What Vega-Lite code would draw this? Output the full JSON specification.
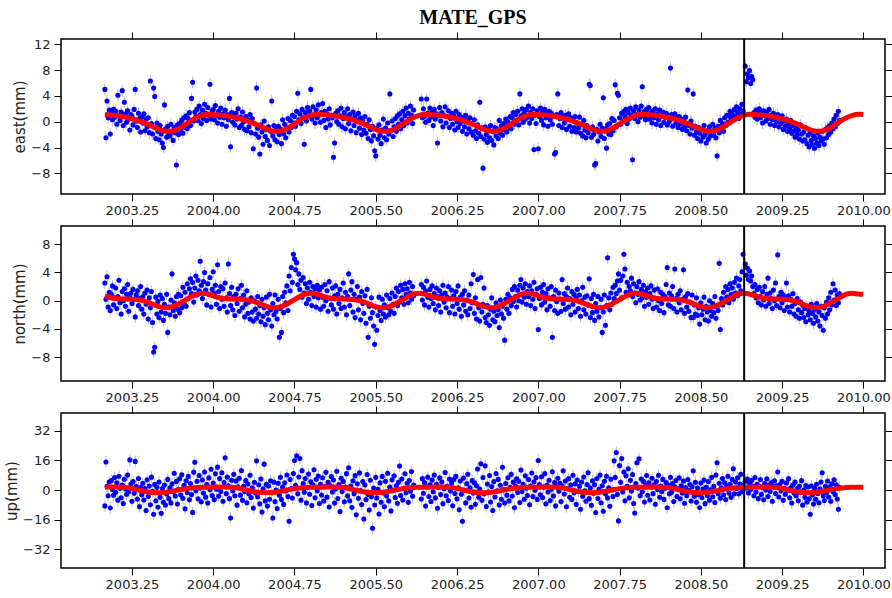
{
"$schema": "https://vega.github.io/schema/vega-lite/v6.json",
"background": "white",
"padding": {"left": 3, "top": 6, "right": 0, "bottom": 4},
"autosize": {"type": "pad"},
"spacing": 32,
"bounds": "flush",
"config": {
  "view": {"stroke": "black", "strokeWidth": 1.5},
  "axis": {"grid": false, "domain": false, "ticks": true, "tickColor": "black", "tickSize": 7, "tickWidth": 1, "labelFont": "DejaVu Sans", "labelFontSize": 13, "labelColor": "#222222", "titleFont": "DejaVu Sans", "titleFontSize": 15, "titleFontWeight": "normal", "titleColor": "#222222", "labelPadding": 3, "titlePadding": 3},
  "axisY": {"labelPadding": 4},
  "title": {"font": "Liberation Serif", "fontSize": 20, "fontWeight": "bold", "color": "black"}
},
"datasets": {
"events": [{"t": 2008.9}],
"model": [
{"t":2003.00,"e":1.12,"n":0.70,"u":1.60},{"t":2003.05,"e":1.05,"n":0.45,"u":1.70},{"t":2003.10,"e":0.95,"n":0.30,"u":1.70},{"t":2003.15,"e":0.82,"n":0.25,"u":1.60},{"t":2003.20,"e":0.65,"n":0.25,"u":1.40},{"t":2003.25,"e":0.45,"n":0.22,"u":0.90},{"t":2003.30,"e":0.20,"n":0.15,"u":0.20},{"t":2003.35,"e":-0.10,"n":0.00,"u":-0.50},{"t":2003.40,"e":-0.45,"n":-0.25,"u":-1.00},{"t":2003.45,"e":-0.85,"n":-0.55,"u":-1.30},{"t":2003.50,"e":-1.20,"n":-0.85,"u":-1.35},{"t":2003.55,"e":-1.45,"n":-1.00,"u":-1.20},{"t":2003.60,"e":-1.50,"n":-0.95,"u":-0.80},{"t":2003.65,"e":-1.30,"n":-0.70,"u":-0.30},{"t":2003.70,"e":-0.90,"n":-0.30,"u":0.30},{"t":2003.75,"e":-0.35,"n":0.15,"u":0.80},{"t":2003.80,"e":0.20,"n":0.60,"u":1.20},{"t":2003.85,"e":0.65,"n":0.95,"u":1.45},{"t":2003.90,"e":0.98,"n":1.05,"u":1.55},{"t":2003.95,"e":1.15,"n":0.95,"u":1.60},
{"t":2004.00,"e":1.12,"n":0.70,"u":1.60},{"t":2004.05,"e":1.05,"n":0.45,"u":1.70},{"t":2004.10,"e":0.95,"n":0.30,"u":1.70},{"t":2004.15,"e":0.82,"n":0.25,"u":1.60},{"t":2004.20,"e":0.65,"n":0.25,"u":1.40},{"t":2004.25,"e":0.45,"n":0.22,"u":0.90},{"t":2004.30,"e":0.20,"n":0.15,"u":0.20},{"t":2004.35,"e":-0.10,"n":0.00,"u":-0.50},{"t":2004.40,"e":-0.45,"n":-0.25,"u":-1.00},{"t":2004.45,"e":-0.85,"n":-0.55,"u":-1.30},{"t":2004.50,"e":-1.20,"n":-0.85,"u":-1.35},{"t":2004.55,"e":-1.45,"n":-1.00,"u":-1.20},{"t":2004.60,"e":-1.50,"n":-0.95,"u":-0.80},{"t":2004.65,"e":-1.30,"n":-0.70,"u":-0.30},{"t":2004.70,"e":-0.90,"n":-0.30,"u":0.30},{"t":2004.75,"e":-0.35,"n":0.15,"u":0.80},{"t":2004.80,"e":0.20,"n":0.60,"u":1.20},{"t":2004.85,"e":0.65,"n":0.95,"u":1.45},{"t":2004.90,"e":0.98,"n":1.05,"u":1.55},{"t":2004.95,"e":1.15,"n":0.95,"u":1.60},
{"t":2005.00,"e":1.12,"n":0.70,"u":1.60},{"t":2005.05,"e":1.05,"n":0.45,"u":1.70},{"t":2005.10,"e":0.95,"n":0.30,"u":1.70},{"t":2005.15,"e":0.82,"n":0.25,"u":1.60},{"t":2005.20,"e":0.65,"n":0.25,"u":1.40},{"t":2005.25,"e":0.45,"n":0.22,"u":0.90},{"t":2005.30,"e":0.20,"n":0.15,"u":0.20},{"t":2005.35,"e":-0.10,"n":0.00,"u":-0.50},{"t":2005.40,"e":-0.45,"n":-0.25,"u":-1.00},{"t":2005.45,"e":-0.85,"n":-0.55,"u":-1.30},{"t":2005.50,"e":-1.20,"n":-0.85,"u":-1.35},{"t":2005.55,"e":-1.45,"n":-1.00,"u":-1.20},{"t":2005.60,"e":-1.50,"n":-0.95,"u":-0.80},{"t":2005.65,"e":-1.30,"n":-0.70,"u":-0.30},{"t":2005.70,"e":-0.90,"n":-0.30,"u":0.30},{"t":2005.75,"e":-0.35,"n":0.15,"u":0.80},{"t":2005.80,"e":0.20,"n":0.60,"u":1.20},{"t":2005.85,"e":0.65,"n":0.95,"u":1.45},{"t":2005.90,"e":0.98,"n":1.05,"u":1.55},{"t":2005.95,"e":1.15,"n":0.95,"u":1.60},
{"t":2006.00,"e":1.12,"n":0.70,"u":1.60},{"t":2006.05,"e":1.05,"n":0.45,"u":1.70},{"t":2006.10,"e":0.95,"n":0.30,"u":1.70},{"t":2006.15,"e":0.82,"n":0.25,"u":1.60},{"t":2006.20,"e":0.65,"n":0.25,"u":1.40},{"t":2006.25,"e":0.45,"n":0.22,"u":0.90},{"t":2006.30,"e":0.20,"n":0.15,"u":0.20},{"t":2006.35,"e":-0.10,"n":0.00,"u":-0.50},{"t":2006.40,"e":-0.45,"n":-0.25,"u":-1.00},{"t":2006.45,"e":-0.85,"n":-0.55,"u":-1.30},{"t":2006.50,"e":-1.20,"n":-0.85,"u":-1.35},{"t":2006.55,"e":-1.45,"n":-1.00,"u":-1.20},{"t":2006.60,"e":-1.50,"n":-0.95,"u":-0.80},{"t":2006.65,"e":-1.30,"n":-0.70,"u":-0.30},{"t":2006.70,"e":-0.90,"n":-0.30,"u":0.30},{"t":2006.75,"e":-0.35,"n":0.15,"u":0.80},{"t":2006.80,"e":0.20,"n":0.60,"u":1.20},{"t":2006.85,"e":0.65,"n":0.95,"u":1.45},{"t":2006.90,"e":0.98,"n":1.05,"u":1.55},{"t":2006.95,"e":1.15,"n":0.95,"u":1.60},
{"t":2007.00,"e":1.12,"n":0.70,"u":1.60},{"t":2007.05,"e":1.05,"n":0.45,"u":1.70},{"t":2007.10,"e":0.95,"n":0.30,"u":1.70},{"t":2007.15,"e":0.82,"n":0.25,"u":1.60},{"t":2007.20,"e":0.65,"n":0.25,"u":1.40},{"t":2007.25,"e":0.45,"n":0.22,"u":0.90},{"t":2007.30,"e":0.20,"n":0.15,"u":0.20},{"t":2007.35,"e":-0.10,"n":0.00,"u":-0.50},{"t":2007.40,"e":-0.45,"n":-0.25,"u":-1.00},{"t":2007.45,"e":-0.85,"n":-0.55,"u":-1.30},{"t":2007.50,"e":-1.20,"n":-0.85,"u":-1.35},{"t":2007.55,"e":-1.45,"n":-1.00,"u":-1.20},{"t":2007.60,"e":-1.50,"n":-0.95,"u":-0.80},{"t":2007.65,"e":-1.30,"n":-0.70,"u":-0.30},{"t":2007.70,"e":-0.90,"n":-0.30,"u":0.30},{"t":2007.75,"e":-0.35,"n":0.15,"u":0.80},{"t":2007.80,"e":0.20,"n":0.60,"u":1.20},{"t":2007.85,"e":0.65,"n":0.95,"u":1.45},{"t":2007.90,"e":0.98,"n":1.05,"u":1.55},{"t":2007.95,"e":1.15,"n":0.95,"u":1.60},
{"t":2008.00,"e":1.12,"n":0.70,"u":1.60},{"t":2008.05,"e":1.05,"n":0.45,"u":1.70},{"t":2008.10,"e":0.95,"n":0.30,"u":1.70},{"t":2008.15,"e":0.82,"n":0.25,"u":1.60},{"t":2008.20,"e":0.65,"n":0.25,"u":1.40},{"t":2008.25,"e":0.45,"n":0.22,"u":0.90},{"t":2008.30,"e":0.20,"n":0.15,"u":0.20},{"t":2008.35,"e":-0.10,"n":0.00,"u":-0.50},{"t":2008.40,"e":-0.45,"n":-0.25,"u":-1.00},{"t":2008.45,"e":-0.85,"n":-0.55,"u":-1.30},{"t":2008.50,"e":-1.20,"n":-0.85,"u":-1.35},{"t":2008.55,"e":-1.45,"n":-1.00,"u":-1.20},{"t":2008.60,"e":-1.50,"n":-0.95,"u":-0.80},{"t":2008.65,"e":-1.30,"n":-0.70,"u":-0.30},{"t":2008.70,"e":-0.90,"n":-0.30,"u":0.30},{"t":2008.75,"e":-0.35,"n":0.15,"u":0.80},{"t":2008.80,"e":0.20,"n":0.60,"u":1.20},{"t":2008.85,"e":0.65,"n":0.95,"u":1.45},{"t":2008.90,"e":0.98,"n":1.05,"u":1.55},{"t":2008.95,"e":1.15,"n":0.95,"u":1.60},
{"t":2009.00,"e":1.12,"n":0.70,"u":1.60},{"t":2009.05,"e":1.05,"n":0.45,"u":1.70},{"t":2009.10,"e":0.95,"n":0.30,"u":1.70},{"t":2009.15,"e":0.82,"n":0.25,"u":1.60},{"t":2009.20,"e":0.65,"n":0.25,"u":1.40},{"t":2009.25,"e":0.45,"n":0.22,"u":0.90},{"t":2009.30,"e":0.20,"n":0.15,"u":0.20},{"t":2009.35,"e":-0.10,"n":0.00,"u":-0.50},{"t":2009.40,"e":-0.45,"n":-0.25,"u":-1.00},{"t":2009.45,"e":-0.85,"n":-0.55,"u":-1.30},{"t":2009.50,"e":-1.20,"n":-0.85,"u":-1.35},{"t":2009.55,"e":-1.45,"n":-1.00,"u":-1.20},{"t":2009.60,"e":-1.50,"n":-0.95,"u":-0.80},{"t":2009.65,"e":-1.30,"n":-0.70,"u":-0.30},{"t":2009.70,"e":-0.90,"n":-0.30,"u":0.30},{"t":2009.75,"e":-0.35,"n":0.15,"u":0.80},{"t":2009.80,"e":0.20,"n":0.60,"u":1.20},{"t":2009.85,"e":0.65,"n":0.95,"u":1.45},{"t":2009.90,"e":0.98,"n":1.05,"u":1.55},{"t":2009.95,"e":1.15,"n":0.95,"u":1.60},{"t":2010.00,"e":1.12,"n":0.90,"u":1.60}
],
"obs": [
{"t":2003.00,"e":5.0,"n":2.5,"u":-8.5},{"t":2003.01,"e":-2.5,"n":0.2,"u":15.2},{"t":2003.02,"e":3.2,"n":3.4,"u":2.1},{"t":2003.03,"e":0.6,"n":-0.9,"u":-3.0},{"t":2003.04,"e":1.8,"n":1.2,"u":4.4},
{"t":2003.05,"e":-1.9,"n":-1.4,"u":-9.6},{"t":2003.06,"e":1.4,"n":0.9,"u":5.2},{"t":2003.07,"e":0.3,"n":2.1,"u":0.3},{"t":2003.08,"e":1.9,"n":-0.6,"u":-2.7},{"t":2003.09,"e":0.7,"n":0.4,"u":6.8},
{"t":2003.10,"e":1.6,"n":1.8,"u":-1.2},{"t":2003.11,"e":-0.4,"n":-1.1,"u":3.9},{"t":2003.12,"e":4.1,"n":0.6,"u":-5.4},{"t":2003.13,"e":0.9,"n":2.9,"u":7.5},{"t":2003.14,"e":0.2,"n":-0.3,"u":1.0},
{"t":2003.15,"e":1.5,"n":-1.9,"u":-4.1},{"t":2003.16,"e":4.8,"n":1.3,"u":2.8},{"t":2003.17,"e":-0.6,"n":0.0,"u":-7.2},{"t":2003.18,"e":3.0,"n":1.7,"u":5.9},{"t":2003.19,"e":1.2,"n":-0.8,"u":0.6},
{"t":2003.20,"e":-0.1,"n":0.9,"u":-2.2},{"t":2003.21,"e":1.7,"n":2.3,"u":8.1},{"t":2003.22,"e":0.4,"n":-1.5,"u":-0.9},{"t":2003.23,"e":-1.3,"n":0.5,"u":16.3},{"t":2003.24,"e":1.1,"n":1.1,"u":3.3},
{"t":2003.25,"e":0.8,"n":-0.4,"u":-6.0},{"t":2003.26,"e":-0.5,"n":1.6,"u":4.6},{"t":2003.27,"e":1.9,"n":0.2,"u":-1.7},{"t":2003.28,"e":5.0,"n":-2.3,"u":15.5},{"t":2003.29,"e":0.1,"n":0.8,"u":2.0},
{"t":2003.30,"e":-0.9,"n":1.4,"u":-4.8},{"t":2003.31,"e":1.3,"n":-0.7,"u":6.3},{"t":2003.32,"e":0.5,"n":0.3,"u":-8.9},{"t":2003.33,"e":-1.6,"n":2.0,"u":1.4},{"t":2003.34,"e":0.7,"n":-1.2,"u":-2.5},
{"t":2003.35,"e":-0.2,"n":0.6,"u":3.7},{"t":2003.36,"e":1.2,"n":-1.9,"u":-5.3},{"t":2003.37,"e":-1.4,"n":1.1,"u":0.8},{"t":2003.38,"e":0.4,"n":-0.5,"u":-11.0},{"t":2003.39,"e":-0.8,"n":1.5,"u":5.6},
{"t":2003.40,"e":0.6,"n":-2.6,"u":-3.4},{"t":2003.41,"e":-1.7,"n":0.4,"u":2.2},{"t":2003.42,"e":6.3,"n":-1.0,"u":-7.9},{"t":2003.43,"e":-0.3,"n":1.3,"u":7.0},{"t":2003.44,"e":-1.9,"n":-3.1,"u":-0.6},
{"t":2003.45,"e":5.2,"n":-7.3,"u":-13.0},{"t":2003.46,"e":3.9,"n":-6.6,"u":3.1},{"t":2003.47,"e":-2.6,"n":0.5,"u":-5.7},{"t":2003.48,"e":-0.2,"n":-1.9,"u":1.5},{"t":2003.49,"e":-1.5,"n":-0.1,"u":-9.2},
{"t":2003.50,"e":-2.8,"n":-2.4,"u":4.4},{"t":2003.51,"e":-0.6,"n":0.8,"u":-3.9},{"t":2003.52,"e":-1.9,"n":-1.6,"u":-12.5},{"t":2003.53,"e":-3.3,"n":0.3,"u":0.9},{"t":2003.54,"e":-4.0,"n":-2.8,"u":-6.6},
{"t":2003.55,"e":2.6,"n":-0.5,"u":2.7},{"t":2003.56,"e":-1.1,"n":-1.8,"u":-8.0},{"t":2003.57,"e":-2.4,"n":0.9,"u":-2.1},{"t":2003.58,"e":-0.7,"n":-4.5,"u":5.8},{"t":2003.59,"e":-1.8,"n":-0.9,"u":-4.6},
{"t":2003.60,"e":-2.2,"n":-2.0,"u":1.2},{"t":2003.61,"e":-0.4,"n":0.1,"u":-6.9},{"t":2003.62,"e":-1.6,"n":3.8,"u":3.4},{"t":2003.63,"e":-2.9,"n":-1.4,"u":-0.9},{"t":2003.64,"e":-0.9,"n":-0.3,"u":9.1},
{"t":2003.65,"e":-1.7,"n":-2.2,"u":-3.2},{"t":2003.66,"e":-6.7,"n":0.6,"u":4.7},{"t":2003.67,"e":-0.5,"n":-1.2,"u":-7.5},{"t":2003.68,"e":-2.0,"n":0.9,"u":0.4},{"t":2003.69,"e":-0.3,"n":-1.7,"u":6.1},
{"t":2003.70,"e":-1.4,"n":0.7,"u":-2.6},{"t":2003.71,"e":0.2,"n":-1.0,"u":8.3},{"t":2003.72,"e":-1.8,"n":1.9,"u":-4.4},{"t":2003.73,"e":0.6,"n":-0.4,"u":2.6},{"t":2003.74,"e":-0.9,"n":1.2,"u":-10.1},
{"t":2003.75,"e":0.9,"n":-0.8,"u":5.0},{"t":2003.76,"e":-1.1,"n":2.4,"u":-1.3},{"t":2003.77,"e":0.5,"n":0.3,"u":7.4},{"t":2003.78,"e":1.4,"n":1.7,"u":-5.2},{"t":2003.79,"e":-0.6,"n":3.1,"u":3.6},
{"t":2003.80,"e":3.6,"n":1.0,"u":-2.4},{"t":2003.81,"e":6.1,"n":2.6,"u":-12.0},{"t":2003.82,"e":0.1,"n":-0.2,"u":9.7},{"t":2003.83,"e":1.5,"n":1.8,"u":15.0},{"t":2003.84,"e":0.8,"n":3.5,"u":-0.3},
{"t":2003.85,"e":1.9,"n":0.8,"u":4.8},{"t":2003.86,"e":0.2,"n":2.9,"u":-4.7},{"t":2003.87,"e":2.4,"n":1.4,"u":7.9},{"t":2003.88,"e":1.1,"n":5.6,"u":1.1},{"t":2003.89,"e":-0.3,"n":2.2,"u":-6.3},
{"t":2003.90,"e":1.8,"n":0.3,"u":5.5},{"t":2003.91,"e":0.5,"n":2.7,"u":-1.6},{"t":2003.92,"e":2.7,"n":4.0,"u":9.8},{"t":2003.93,"e":1.3,"n":1.5,"u":-3.8},{"t":2003.94,"e":0.2,"n":-0.6,"u":3.0},
{"t":2003.95,"e":2.2,"n":2.4,"u":-7.0},{"t":2003.96,"e":1.0,"n":0.9,"u":6.6},{"t":2003.97,"e":5.8,"n":3.3,"u":0.2},{"t":2003.98,"e":0.4,"n":-0.9,"u":11.3},{"t":2003.99,"e":1.7,"n":1.6,"u":-2.9},
{"t":2004.00,"e":1.9,"n":4.1,"u":3.8},{"t":2004.01,"e":0.3,"n":1.0,"u":-5.1},{"t":2004.02,"e":2.5,"n":2.2,"u":8.8},{"t":2004.03,"e":1.0,"n":-0.5,"u":0.5},{"t":2004.04,"e":-0.2,"n":5.1,"u":12.4},
{"t":2004.05,"e":1.6,"n":1.3,"u":-3.3},{"t":2004.06,"e":0.7,"n":-1.1,"u":6.2},{"t":2004.07,"e":2.1,"n":2.0,"u":-0.8},{"t":2004.08,"e":-0.4,"n":0.2,"u":9.4},{"t":2004.09,"e":1.2,"n":1.7,"u":-6.0},
{"t":2004.10,"e":0.6,"n":-0.8,"u":4.1},{"t":2004.11,"e":1.8,"n":2.5,"u":17.4},{"t":2004.12,"e":-0.7,"n":0.4,"u":-1.9},{"t":2004.13,"e":1.1,"n":-1.6,"u":7.0},{"t":2004.14,"e":0.3,"n":5.2,"u":2.4},
{"t":2004.15,"e":3.6,"n":1.0,"u":-4.6},{"t":2004.16,"e":-3.9,"n":-0.7,"u":-15.0},{"t":2004.17,"e":1.4,"n":1.9,"u":5.3},{"t":2004.18,"e":-0.1,"n":-1.3,"u":-0.4},{"t":2004.19,"e":0.9,"n":0.6,"u":8.5},
{"t":2004.20,"e":-0.5,"n":-2.1,"u":-3.0},{"t":2004.21,"e":1.3,"n":0.9,"u":4.9},{"t":2004.22,"e":0.4,"n":-0.4,"u":-8.1},{"t":2004.23,"e":2.0,"n":1.7,"u":1.8},{"t":2004.24,"e":-0.9,"n":-1.5,"u":6.4},
{"t":2004.25,"e":0.7,"n":0.3,"u":-2.7},{"t":2004.26,"e":-0.6,"n":2.2,"u":10.6},{"t":2004.27,"e":1.5,"n":-1.0,"u":-5.5},{"t":2004.28,"e":0.0,"n":0.8,"u":2.0},{"t":2004.29,"e":-1.2,"n":-2.3,"u":-0.7},
{"t":2004.30,"e":0.8,"n":-0.5,"u":5.1},{"t":2004.31,"e":-1.4,"n":1.4,"u":-6.8},{"t":2004.32,"e":0.3,"n":-1.8,"u":3.3},{"t":2004.33,"e":-0.8,"n":-0.2,"u":-2.1},{"t":2004.34,"e":1.1,"n":-2.6,"u":8.0},
{"t":2004.35,"e":-1.7,"n":0.4,"u":-4.0},{"t":2004.36,"e":0.5,"n":-1.6,"u":1.3},{"t":2004.37,"e":-4.2,"n":-2.9,"u":-9.7},{"t":2004.38,"e":-0.3,"n":0.0,"u":4.2},{"t":2004.39,"e":-1.9,"n":-1.2,"u":-1.5},
{"t":2004.40,"e":5.2,"n":-2.5,"u":15.8},{"t":2004.41,"e":-1.0,"n":0.6,"u":-3.6},{"t":2004.42,"e":-2.4,"n":-1.9,"u":2.9},{"t":2004.43,"e":-5.0,"n":-0.7,"u":-7.4},{"t":2004.44,"e":-0.5,"n":-3.0,"u":6.0},
{"t":2004.45,"e":-1.6,"n":0.2,"u":-11.8},{"t":2004.46,"e":-3.5,"n":-2.2,"u":0.7},{"t":2004.47,"e":0.1,"n":-1.0,"u":14.0},{"t":2004.48,"e":-2.3,"n":-3.4,"u":-5.8},{"t":2004.49,"e":-1.2,"n":0.5,"u":3.1},
{"t":2004.50,"e":-2.9,"n":-1.8,"u":-8.6},{"t":2004.51,"e":-0.8,"n":-2.7,"u":2.2},{"t":2004.52,"e":-3.7,"n":0.9,"u":-4.9},{"t":2004.53,"e":-1.5,"n":-1.3,"u":5.0},{"t":2004.54,"e":3.2,"n":-3.6,"u":-1.4},
{"t":2004.55,"e":-2.2,"n":-0.4,"u":-15.0},{"t":2004.56,"e":-0.6,"n":-2.0,"u":4.3},{"t":2004.57,"e":-2.8,"n":0.8,"u":-6.2},{"t":2004.58,"e":-1.3,"n":-1.5,"u":0.1},{"t":2004.59,"e":-3.1,"n":-2.6,"u":-9.9},
{"t":2004.60,"e":-0.7,"n":0.2,"u":3.7},{"t":2004.61,"e":-2.0,"n":-5.2,"u":-2.8},{"t":2004.62,"e":-1.1,"n":-1.1,"u":6.9},{"t":2004.63,"e":-3.4,"n":-4.5,"u":-5.0},{"t":2004.64,"e":0.3,"n":0.6,"u":1.6},
{"t":2004.65,"e":-1.9,"n":-1.7,"u":-7.7},{"t":2004.66,"e":-0.4,"n":1.2,"u":4.0},{"t":2004.67,"e":-2.5,"n":-0.3,"u":-0.5},{"t":2004.68,"e":-1.0,"n":2.1,"u":8.2},{"t":2004.69,"e":0.5,"n":-1.4,"u":-3.5},
{"t":2004.70,"e":-1.6,"n":3.5,"u":-16.8},{"t":2004.71,"e":0.2,"n":1.4,"u":5.7},{"t":2004.72,"e":-0.9,"n":4.7,"u":0.9},{"t":2004.73,"e":1.0,"n":2.6,"u":-4.3},{"t":2004.74,"e":-0.2,"n":6.6,"u":9.0},
{"t":2004.75,"e":0.8,"n":5.9,"u":16.0},{"t":2004.76,"e":-0.7,"n":4.4,"u":2.6},{"t":2004.77,"e":1.6,"n":5.4,"u":18.5},{"t":2004.78,"e":4.4,"n":2.3,"u":-2.0},{"t":2004.79,"e":0.3,"n":3.8,"u":7.1},
{"t":2004.80,"e":1.2,"n":1.6,"u":17.0},{"t":2004.81,"e":-0.3,"n":2.9,"u":-5.4},{"t":2004.82,"e":1.9,"n":0.5,"u":10.5},{"t":2004.83,"e":0.6,"n":3.3,"u":3.6},{"t":2004.84,"e":-3.5,"n":1.1,"u":-1.1},
{"t":2004.85,"e":1.4,"n":2.4,"u":6.3},{"t":2004.86,"e":0.1,"n":-0.4,"u":-6.9},{"t":2004.87,"e":2.2,"n":1.8,"u":1.4},{"t":2004.88,"e":0.9,"n":0.2,"u":8.7},{"t":2004.89,"e":1.7,"n":2.6,"u":-2.2},
{"t":2004.90,"e":5.0,"n":1.2,"u":4.5},{"t":2004.91,"e":0.4,"n":-0.7,"u":-8.3},{"t":2004.92,"e":2.3,"n":2.0,"u":2.9},{"t":2004.93,"e":1.0,"n":0.6,"u":11.0},{"t":2004.94,"e":-0.2,"n":1.7,"u":-4.1},
{"t":2004.95,"e":1.8,"n":-0.9,"u":5.9},{"t":2004.96,"e":0.6,"n":2.2,"u":-0.3},{"t":2004.97,"e":2.6,"n":0.4,"u":7.6},{"t":2004.98,"e":1.1,"n":1.5,"u":-7.2},{"t":2004.99,"e":-0.1,"n":-1.2,"u":3.2},
{"t":2005.00,"e":1.4,"n":1.9,"u":-2.6},{"t":2005.01,"e":2.8,"n":0.5,"u":6.7},{"t":2005.02,"e":0.2,"n":-0.8,"u":-5.9},{"t":2005.03,"e":1.6,"n":2.3,"u":1.9},{"t":2005.04,"e":-0.9,"n":0.0,"u":9.6},
{"t":2005.05,"e":1.2,"n":1.4,"u":-3.8},{"t":2005.06,"e":0.4,"n":-1.5,"u":4.2},{"t":2005.07,"e":2.0,"n":2.7,"u":-9.1},{"t":2005.08,"e":-0.5,"n":0.3,"u":2.5},{"t":2005.09,"e":1.0,"n":-0.6,"u":7.3},
{"t":2005.10,"e":0.6,"n":1.8,"u":-1.0},{"t":2005.11,"e":-5.5,"n":-1.2,"u":5.5},{"t":2005.12,"e":-3.3,"n":0.7,"u":-7.0},{"t":2005.13,"e":1.3,"n":2.1,"u":0.6},{"t":2005.14,"e":0.0,"n":-1.9,"u":10.2},
{"t":2005.15,"e":1.7,"n":0.9,"u":-4.5},{"t":2005.16,"e":-0.4,"n":-0.4,"u":3.0},{"t":2005.17,"e":0.9,"n":1.6,"u":-11.5},{"t":2005.18,"e":2.1,"n":-1.1,"u":6.4},{"t":2005.19,"e":-0.8,"n":0.4,"u":-0.8},
{"t":2005.20,"e":0.5,"n":2.5,"u":4.7},{"t":2005.21,"e":1.4,"n":-0.9,"u":-6.3},{"t":2005.22,"e":-1.1,"n":1.2,"u":1.7},{"t":2005.23,"e":0.7,"n":-2.0,"u":8.9},{"t":2005.24,"e":2.0,"n":0.6,"u":-3.1},
{"t":2005.25,"e":-0.3,"n":3.8,"u":12.1},{"t":2005.26,"e":1.1,"n":-0.7,"u":-5.7},{"t":2005.27,"e":-1.4,"n":1.5,"u":2.2},{"t":2005.28,"e":0.4,"n":2.7,"u":-9.4},{"t":2005.29,"e":1.5,"n":-1.6,"u":5.0},
{"t":2005.30,"e":-0.6,"n":0.9,"u":-1.9},{"t":2005.31,"e":0.9,"n":-2.4,"u":7.8},{"t":2005.32,"e":-1.7,"n":0.2,"u":-13.3},{"t":2005.33,"e":0.2,"n":2.0,"u":3.4},{"t":2005.34,"e":1.3,"n":-1.3,"u":-4.4},
{"t":2005.35,"e":-1.0,"n":0.5,"u":9.3},{"t":2005.36,"e":0.6,"n":-2.7,"u":-0.2},{"t":2005.37,"e":-2.0,"n":1.3,"u":-7.8},{"t":2005.38,"e":0.1,"n":-0.4,"u":4.6},{"t":2005.39,"e":-1.3,"n":-1.8,"u":-15.6},
{"t":2005.40,"e":0.8,"n":0.7,"u":2.8},{"t":2005.41,"e":-1.8,"n":-3.2,"u":-5.1},{"t":2005.42,"e":-0.4,"n":1.6,"u":8.4},{"t":2005.43,"e":-2.6,"n":-5.2,"u":-2.3},{"t":2005.44,"e":0.3,"n":-0.8,"u":-10.7},
{"t":2005.45,"e":-1.2,"n":-2.5,"u":5.3},{"t":2005.46,"e":-3.0,"n":0.4,"u":-3.6},{"t":2005.47,"e":-0.7,"n":-1.7,"u":-20.6},{"t":2005.48,"e":-2.2,"n":-3.6,"u":1.1},{"t":2005.49,"e":-4.5,"n":-6.2,"u":-8.0},
{"t":2005.50,"e":-5.3,"n":-0.9,"u":6.9},{"t":2005.51,"e":-1.0,"n":-4.2,"u":-4.2},{"t":2005.52,"e":-2.7,"n":-2.1,"u":0.4},{"t":2005.53,"e":-0.5,"n":0.5,"u":-12.9},{"t":2005.54,"e":-2.1,"n":-1.4,"u":3.9},
{"t":2005.55,"e":-3.4,"n":-2.8,"u":-6.5},{"t":2005.56,"e":-1.3,"n":0.2,"u":7.4},{"t":2005.57,"e":0.4,"n":-1.9,"u":-1.5},{"t":2005.58,"e":-2.5,"n":-0.6,"u":-9.0},{"t":2005.59,"e":-1.0,"n":-2.3,"u":4.8},
{"t":2005.60,"e":-2.8,"n":0.8,"u":-3.1},{"t":2005.61,"e":-0.2,"n":-1.0,"u":9.1},{"t":2005.62,"e":-1.9,"n":-2.0,"u":-5.8},{"t":2005.63,"e":4.3,"n":0.3,"u":1.6},{"t":2005.64,"e":-1.4,"n":-1.5,"u":-11.2},
{"t":2005.65,"e":0.1,"n":1.1,"u":5.6},{"t":2005.66,"e":-2.3,"n":-0.5,"u":-0.1},{"t":2005.67,"e":-0.8,"n":-1.8,"u":7.7},{"t":2005.68,"e":0.5,"n":0.6,"u":-4.0},{"t":2005.69,"e":-1.5,"n":1.8,"u":2.3},
{"t":2005.70,"e":0.9,"n":-0.7,"u":-7.1},{"t":2005.71,"e":-0.4,"n":1.3,"u":4.2},{"t":2005.72,"e":1.2,"n":-0.2,"u":13.0},{"t":2005.73,"e":-1.1,"n":2.2,"u":-2.9},{"t":2005.74,"e":0.3,"n":0.4,"u":6.0},
{"t":2005.75,"e":1.6,"n":1.6,"u":-5.3},{"t":2005.76,"e":-0.6,"n":-0.5,"u":1.0},{"t":2005.77,"e":0.9,"n":2.4,"u":8.8},{"t":2005.78,"e":2.1,"n":0.9,"u":-1.4},{"t":2005.79,"e":-0.2,"n":1.7,"u":3.7},
{"t":2005.80,"e":1.3,"n":-0.3,"u":-6.6},{"t":2005.81,"e":0.4,"n":2.6,"u":5.2},{"t":2005.82,"e":2.4,"n":1.1,"u":-0.6},{"t":2005.83,"e":1.0,"n":0.2,"u":10.0},{"t":2005.84,"e":-0.3,"n":2.0,"u":-3.3},
{"t":2005.85,"e":1.8,"n":0.7,"u":2.7},
{"t":2005.92,"e":3.5,"n":2.3,"u":-4.8},{"t":2005.93,"e":0.6,"n":0.1,"u":6.2},{"t":2005.94,"e":2.0,"n":1.9,"u":-1.7},
{"t":2005.95,"e":0.8,"n":-0.6,"u":4.1},{"t":2005.96,"e":-0.1,"n":1.4,"u":-8.6},{"t":2005.97,"e":3.5,"n":2.8,"u":1.8},{"t":2005.98,"e":1.3,"n":0.5,"u":7.0},{"t":2005.99,"e":0.2,"n":-0.9,"u":-3.4},
{"t":2006.00,"e":2.1,"n":1.6,"u":2.9},{"t":2006.01,"e":0.7,"n":0.3,"u":-6.1},{"t":2006.02,"e":1.5,"n":2.1,"u":5.4},{"t":2006.03,"e":-0.6,"n":-0.4,"u":-0.9},{"t":2006.04,"e":1.9,"n":1.0,"u":8.1},
{"t":2006.05,"e":0.4,"n":-1.3,"u":-4.2},{"t":2006.06,"e":1.2,"n":1.8,"u":3.2},{"t":2006.07,"e":-3.3,"n":0.6,"u":-9.8},{"t":2006.08,"e":0.9,"n":-0.7,"u":1.4},{"t":2006.09,"e":2.2,"n":1.4,"u":6.6},
{"t":2006.10,"e":0.1,"n":-1.6,"u":-2.4},{"t":2006.11,"e":1.4,"n":0.8,"u":4.4},{"t":2006.12,"e":-0.8,"n":2.2,"u":-7.3},{"t":2006.13,"e":1.0,"n":-0.2,"u":0.8},{"t":2006.14,"e":2.3,"n":1.1,"u":9.5},
{"t":2006.15,"e":-0.2,"n":-1.0,"u":-3.0},{"t":2006.16,"e":0.8,"n":0.5,"u":2.1},{"t":2006.17,"e":1.7,"n":2.0,"u":-5.6},{"t":2006.18,"e":-0.9,"n":-1.7,"u":6.0},{"t":2006.19,"e":0.5,"n":0.3,"u":-0.5},
{"t":2006.20,"e":1.3,"n":1.5,"u":3.9},{"t":2006.21,"e":-0.4,"n":-0.8,"u":-8.4},{"t":2006.22,"e":0.9,"n":0.7,"u":5.7},{"t":2006.23,"e":-1.3,"n":-1.9,"u":-1.8},{"t":2006.24,"e":1.6,"n":1.3,"u":7.4},
{"t":2006.25,"e":0.0,"n":-0.4,"u":-4.7},{"t":2006.26,"e":-0.9,"n":2.1,"u":1.3},{"t":2006.27,"e":1.1,"n":-1.2,"u":-10.6},{"t":2006.28,"e":-0.3,"n":0.5,"u":4.9},{"t":2006.29,"e":0.7,"n":-2.2,"u":-2.2},
{"t":2006.30,"e":-1.5,"n":0.9,"u":-16.8},{"t":2006.31,"e":0.4,"n":-0.6,"u":6.5},{"t":2006.32,"e":-0.8,"n":1.4,"u":-0.2},{"t":2006.33,"e":1.0,"n":-1.5,"u":-6.9},{"t":2006.34,"e":-1.9,"n":0.1,"u":3.5},
{"t":2006.35,"e":0.2,"n":-2.0,"u":8.6},{"t":2006.36,"e":-1.1,"n":0.8,"u":-4.3},{"t":2006.37,"e":0.6,"n":-1.1,"u":1.2},{"t":2006.38,"e":-1.6,"n":2.4,"u":-9.2},{"t":2006.39,"e":-0.3,"n":-0.3,"u":5.1},
{"t":2006.40,"e":-2.1,"n":3.7,"u":-1.6},{"t":2006.41,"e":0.3,"n":-1.8,"u":4.0},{"t":2006.42,"e":-1.4,"n":0.4,"u":-7.6},{"t":2006.43,"e":-2.6,"n":-2.6,"u":2.4},{"t":2006.44,"e":-0.5,"n":3.0,"u":11.4},
{"t":2006.45,"e":-1.8,"n":-1.0,"u":-3.8},{"t":2006.46,"e":3.0,"n":-2.9,"u":0.6},{"t":2006.47,"e":-2.3,"n":3.3,"u":14.2},{"t":2006.48,"e":-1.0,"n":-1.6,"u":-5.5},{"t":2006.49,"e":-7.2,"n":-0.5,"u":6.8},
{"t":2006.50,"e":-2.7,"n":1.8,"u":-2.0},{"t":2006.51,"e":-0.8,"n":-2.4,"u":13.1},{"t":2006.52,"e":-2.0,"n":-3.1,"u":-8.8},{"t":2006.53,"e":-3.2,"n":-0.7,"u":3.3},{"t":2006.54,"e":-1.2,"n":-2.0,"u":-1.1},
{"t":2006.55,"e":-2.5,"n":-3.5,"u":7.9},{"t":2006.56,"e":-0.6,"n":-1.2,"u":-6.4},{"t":2006.57,"e":-2.9,"n":0.4,"u":1.9},{"t":2006.58,"e":-1.5,"n":-2.7,"u":-11.0},{"t":2006.59,"e":-3.6,"n":-1.5,"u":4.6},
{"t":2006.60,"e":-0.9,"n":-3.0,"u":-3.7},{"t":2006.61,"e":-2.2,"n":-0.3,"u":9.0},{"t":2006.62,"e":-1.1,"n":-2.1,"u":-0.4},{"t":2006.63,"e":-2.6,"n":-1.3,"u":5.8},{"t":2006.64,"e":0.2,"n":-3.8,"u":-8.0},
{"t":2006.65,"e":-1.8,"n":0.1,"u":2.6},{"t":2006.66,"e":-0.6,"n":-1.9,"u":-4.9},{"t":2006.67,"e":-2.1,"n":-0.8,"u":12.3},{"t":2006.68,"e":-0.3,"n":-2.5,"u":0.3},{"t":2006.69,"e":-1.3,"n":-5.6,"u":-7.0},
{"t":2006.70,"e":0.4,"n":0.2,"u":3.6},{"t":2006.71,"e":-1.6,"n":-1.2,"u":-2.7},{"t":2006.72,"e":0.0,"n":0.9,"u":6.7},{"t":2006.73,"e":-0.9,"n":-1.8,"u":-5.8},{"t":2006.74,"e":0.8,"n":0.4,"u":1.5},
{"t":2006.75,"e":-1.1,"n":-0.7,"u":8.5},{"t":2006.76,"e":0.6,"n":1.6,"u":-3.2},{"t":2006.77,"e":1.4,"n":-0.1,"u":4.3},{"t":2006.78,"e":-0.4,"n":2.0,"u":-9.5},{"t":2006.79,"e":1.1,"n":0.6,"u":2.0},
{"t":2006.80,"e":0.2,"n":-0.9,"u":6.1},{"t":2006.81,"e":1.6,"n":1.5,"u":-1.3},{"t":2006.82,"e":-0.5,"n":0.0,"u":4.8},{"t":2006.83,"e":4.3,"n":2.2,"u":-6.7},{"t":2006.84,"e":0.9,"n":3.0,"u":10.8},
{"t":2006.85,"e":2.0,"n":-0.2,"u":-0.7},{"t":2006.86,"e":-0.1,"n":1.8,"u":3.1},{"t":2006.87,"e":1.3,"n":0.5,"u":-4.9},{"t":2006.88,"e":0.4,"n":2.4,"u":7.7},{"t":2006.89,"e":1.9,"n":-0.5,"u":1.0},
{"t":2006.90,"e":0.7,"n":1.3,"u":-2.9},{"t":2006.91,"e":2.4,"n":0.6,"u":5.7},{"t":2006.92,"e":-0.2,"n":2.1,"u":-7.9},{"t":2006.93,"e":1.5,"n":-0.7,"u":2.2},{"t":2006.94,"e":0.5,"n":1.4,"u":9.2},
{"t":2006.95,"e":2.0,"n":0.2,"u":-3.5},{"t":2006.96,"e":-4.3,"n":2.6,"u":4.5},{"t":2006.97,"e":1.0,"n":-1.1,"u":-0.1},{"t":2006.98,"e":-0.3,"n":0.9,"u":6.8},{"t":2006.99,"e":1.7,"n":1.7,"u":-5.0},
{"t":2007.00,"e":-4.2,"n":-4.1,"u":16.0},{"t":2007.01,"e":0.8,"n":0.3,"u":3.0},{"t":2007.02,"e":2.1,"n":1.9,"u":-2.5},{"t":2007.03,"e":0.2,"n":-0.6,"u":7.2},{"t":2007.04,"e":1.5,"n":1.2,"u":-4.0},
{"t":2007.05,"e":-0.5,"n":2.3,"u":1.6},{"t":2007.06,"e":1.9,"n":-0.2,"u":8.9},{"t":2007.07,"e":0.6,"n":1.0,"u":-7.4},{"t":2007.08,"e":1.2,"n":-1.3,"u":2.8},{"t":2007.09,"e":-0.7,"n":1.7,"u":-1.0},
{"t":2007.10,"e":1.6,"n":0.4,"u":5.3},{"t":2007.11,"e":0.3,"n":-0.8,"u":-5.6},{"t":2007.12,"e":1.3,"n":2.0,"u":0.5},{"t":2007.13,"e":-0.4,"n":-5.2,"u":9.9},{"t":2007.14,"e":0.9,"n":0.6,"u":-3.1},
{"t":2007.15,"e":-5.0,"n":-1.4,"u":4.1},{"t":2007.16,"e":-4.8,"n":1.5,"u":-8.5},{"t":2007.17,"e":1.1,"n":-0.1,"u":1.9},{"t":2007.18,"e":4.3,"n":-1.8,"u":6.4},{"t":2007.19,"e":-0.6,"n":1.1,"u":-0.6},
{"t":2007.20,"e":0.5,"n":0.2,"u":3.7},{"t":2007.21,"e":1.4,"n":-1.5,"u":-6.2},{"t":2007.22,"e":-0.9,"n":3.0,"u":2.3},{"t":2007.23,"e":0.7,"n":-0.4,"u":10.4},{"t":2007.24,"e":-0.2,"n":1.0,"u":-2.1},
{"t":2007.25,"e":1.0,"n":-1.2,"u":4.9},{"t":2007.26,"e":-1.2,"n":0.6,"u":-9.0},{"t":2007.27,"e":0.4,"n":1.8,"u":0.9},{"t":2007.28,"e":1.2,"n":-0.9,"u":6.2},{"t":2007.29,"e":-0.7,"n":0.3,"u":-3.9},
{"t":2007.30,"e":0.6,"n":-2.0,"u":2.7},{"t":2007.31,"e":-1.5,"n":1.3,"u":-5.0},{"t":2007.32,"e":0.3,"n":-0.5,"u":8.0},{"t":2007.33,"e":-0.9,"n":0.9,"u":-1.4},{"t":2007.34,"e":0.8,"n":-1.6,"u":3.4},
{"t":2007.35,"e":-1.6,"n":0.4,"u":-7.7},{"t":2007.36,"e":-0.2,"n":1.6,"u":5.5},{"t":2007.37,"e":-1.0,"n":-1.1,"u":-0.8},{"t":2007.38,"e":0.7,"n":0.8,"u":2.1},{"t":2007.39,"e":-1.8,"n":-2.2,"u":-10.3},
{"t":2007.40,"e":-0.4,"n":0.0,"u":4.4},{"t":2007.41,"e":-2.2,"n":1.9,"u":-3.3},{"t":2007.42,"e":0.2,"n":-1.3,"u":7.1},{"t":2007.43,"e":-1.3,"n":0.5,"u":-0.3},{"t":2007.44,"e":-2.5,"n":-1.9,"u":-6.0},
{"t":2007.45,"e":-0.6,"n":0.7,"u":3.0},{"t":2007.46,"e":-1.7,"n":-0.6,"u":9.4},{"t":2007.47,"e":5.8,"n":3.1,"u":-4.6},{"t":2007.48,"e":5.6,"n":-2.4,"u":1.2},{"t":2007.49,"e":-2.4,"n":0.3,"u":-8.2},
{"t":2007.50,"e":-0.8,"n":-1.7,"u":5.0},{"t":2007.51,"e":-2.0,"n":0.9,"u":-1.7},{"t":2007.52,"e":-6.7,"n":-2.8,"u":2.9},{"t":2007.53,"e":-6.5,"n":-0.4,"u":-12.1},{"t":2007.54,"e":-1.2,"n":-1.5,"u":6.3},
{"t":2007.55,"e":-3.0,"n":0.6,"u":-4.5},{"t":2007.56,"e":-1.6,"n":-2.3,"u":0.4},{"t":2007.57,"e":-0.4,"n":-1.0,"u":8.1},{"t":2007.58,"e":-2.3,"n":0.2,"u":-6.8},{"t":2007.59,"e":-1.0,"n":-4.5,"u":2.4},
{"t":2007.60,"e":3.7,"n":-1.6,"u":-11.4},{"t":2007.61,"e":-2.6,"n":0.8,"u":4.8},{"t":2007.62,"e":-1.1,"n":-3.5,"u":-2.0},{"t":2007.63,"e":-4.1,"n":-0.7,"u":7.5},{"t":2007.64,"e":-0.5,"n":6.1,"u":-4.2},
{"t":2007.65,"e":-1.9,"n":0.4,"u":1.3},{"t":2007.66,"e":-0.3,"n":-1.3,"u":-8.7},{"t":2007.67,"e":-2.0,"n":1.1,"u":5.9},{"t":2007.68,"e":0.5,"n":-0.5,"u":0.2},{"t":2007.69,"e":-1.4,"n":1.9,"u":-3.5},
{"t":2007.70,"e":0.2,"n":0.3,"u":15.8},{"t":2007.71,"e":5.7,"n":2.2,"u":6.9},{"t":2007.72,"e":-0.8,"n":1.0,"u":20.3},{"t":2007.73,"e":4.4,"n":2.8,"u":-2.3},{"t":2007.74,"e":4.1,"n":3.8,"u":-16.6},
{"t":2007.75,"e":0.6,"n":1.5,"u":13.2},{"t":2007.76,"e":-0.4,"n":2.9,"u":4.2},{"t":2007.77,"e":1.3,"n":0.4,"u":17.0},{"t":2007.78,"e":0.1,"n":3.5,"u":-1.0},{"t":2007.79,"e":1.6,"n":6.6,"u":9.8},
{"t":2007.80,"e":0.8,"n":4.5,"u":-5.7},{"t":2007.81,"e":1.9,"n":1.2,"u":7.7},{"t":2007.82,"e":-0.3,"n":2.6,"u":2.0},{"t":2007.83,"e":1.4,"n":0.8,"u":11.5},{"t":2007.84,"e":0.4,"n":2.0,"u":-4.1},
{"t":2007.85,"e":2.1,"n":1.4,"u":5.3},{"t":2007.86,"e":1.0,"n":3.2,"u":-0.5},{"t":2007.87,"e":-5.9,"n":0.6,"u":8.4},{"t":2007.88,"e":1.7,"n":2.4,"u":-7.2},{"t":2007.89,"e":0.5,"n":1.1,"u":-12.3},
{"t":2007.90,"e":2.3,"n":-0.3,"u":3.6},{"t":2007.91,"e":1.1,"n":2.0,"u":14.8},{"t":2007.92,"e":0.0,"n":0.9,"u":1.1},{"t":2007.93,"e":1.8,"n":2.7,"u":16.9},{"t":2007.94,"e":0.7,"n":0.1,"u":-3.0},
{"t":2007.95,"e":2.4,"n":1.6,"u":6.0},{"t":2007.96,"e":5.4,"n":0.4,"u":-0.9},{"t":2007.97,"e":0.9,"n":2.2,"u":4.7},{"t":2007.98,"e":1.6,"n":-0.8,"u":-6.4},{"t":2007.99,"e":0.3,"n":1.3,"u":2.5},
{"t":2008.00,"e":1.9,"n":0.5,"u":7.9},{"t":2008.01,"e":0.8,"n":1.8,"u":-2.8},{"t":2008.02,"e":2.2,"n":-0.5,"u":3.9},{"t":2008.03,"e":0.4,"n":1.0,"u":-5.3},{"t":2008.04,"e":1.4,"n":2.1,"u":1.7},
{"t":2008.05,"e":-0.2,"n":0.2,"u":6.4},{"t":2008.06,"e":1.7,"n":-1.1,"u":-1.9},{"t":2008.07,"e":0.6,"n":1.5,"u":2.9},{"t":2008.08,"e":2.0,"n":0.3,"u":-7.6},{"t":2008.09,"e":-0.4,"n":-0.9,"u":4.6},
{"t":2008.10,"e":1.2,"n":1.7,"u":0.3},{"t":2008.11,"e":0.3,"n":0.0,"u":8.0},{"t":2008.12,"e":1.8,"n":-1.4,"u":-3.9},{"t":2008.13,"e":-0.6,"n":1.2,"u":2.2},{"t":2008.14,"e":0.9,"n":-0.4,"u":-0.8},
{"t":2008.15,"e":1.5,"n":0.9,"u":5.8},{"t":2008.16,"e":-0.1,"n":-1.7,"u":-5.0},{"t":2008.17,"e":0.7,"n":0.6,"u":1.0},{"t":2008.18,"e":1.3,"n":2.3,"u":4.1},{"t":2008.19,"e":-0.5,"n":4.7,"u":-9.5},
{"t":2008.20,"e":0.9,"n":-0.6,"u":2.6},{"t":2008.21,"e":0.0,"n":1.1,"u":-2.0},{"t":2008.22,"e":8.3,"n":-0.8,"u":6.9},{"t":2008.23,"e":1.1,"n":0.7,"u":-1.2},{"t":2008.24,"e":-0.7,"n":2.0,"u":3.5},
{"t":2008.25,"e":0.5,"n":-1.1,"u":-6.1},{"t":2008.26,"e":1.2,"n":4.5,"u":1.8},{"t":2008.27,"e":-0.3,"n":0.3,"u":5.2},{"t":2008.28,"e":0.6,"n":-1.6,"u":-3.4},{"t":2008.29,"e":-0.9,"n":0.9,"u":0.7},
{"t":2008.30,"e":0.8,"n":-0.3,"u":6.6},{"t":2008.31,"e":-0.4,"n":1.4,"u":-4.7},{"t":2008.32,"e":0.4,"n":-1.3,"u":2.3},{"t":2008.33,"e":-1.2,"n":0.2,"u":-1.5},{"t":2008.34,"e":0.2,"n":4.4,"u":4.9},
{"t":2008.35,"e":-0.8,"n":-1.8,"u":-7.1},{"t":2008.36,"e":0.7,"n":0.6,"u":1.4},{"t":2008.37,"e":-1.4,"n":-0.9,"u":-3.0},{"t":2008.38,"e":4.9,"n":1.0,"u":5.7},{"t":2008.39,"e":-0.6,"n":-1.5,"u":-0.2},
{"t":2008.40,"e":-1.9,"n":-0.2,"u":3.0},{"t":2008.41,"e":0.1,"n":-2.4,"u":-5.9},{"t":2008.42,"e":-1.0,"n":0.8,"u":1.8},{"t":2008.43,"e":4.3,"n":-2.4,"u":10.4},{"t":2008.44,"e":-2.1,"n":-0.6,"u":-3.3},
{"t":2008.45,"e":-0.7,"n":-1.9,"u":4.2},{"t":2008.46,"e":-1.6,"n":0.4,"u":-6.5},{"t":2008.47,"e":-2.6,"n":-2.1,"u":1.1},{"t":2008.48,"e":-0.9,"n":-1.0,"u":-2.4},{"t":2008.49,"e":-1.8,"n":-3.3,"u":-9.5},
{"t":2008.50,"e":-3.0,"n":-0.3,"u":3.8},{"t":2008.51,"e":-1.2,"n":-2.0,"u":-4.0},{"t":2008.52,"e":-2.4,"n":-1.2,"u":0.6},{"t":2008.53,"e":-0.6,"n":0.5,"u":5.5},{"t":2008.54,"e":-2.0,"n":-2.7,"u":-7.3},
{"t":2008.55,"e":-3.3,"n":-0.8,"u":1.5},{"t":2008.56,"e":-1.4,"n":-1.6,"u":-2.9},{"t":2008.57,"e":-2.7,"n":-2.9,"u":4.6},{"t":2008.58,"e":-0.8,"n":0.0,"u":-5.4},{"t":2008.59,"e":-2.2,"n":-1.4,"u":0.2},
{"t":2008.60,"e":-1.6,"n":-2.2,"u":6.9},{"t":2008.61,"e":-0.4,"n":-0.4,"u":-3.6},{"t":2008.62,"e":-2.1,"n":-1.7,"u":2.0},{"t":2008.63,"e":-1.0,"n":0.6,"u":-6.7},{"t":2008.64,"e":-2.5,"n":-2.5,"u":8.1},
{"t":2008.65,"e":-5.3,"n":-0.9,"u":14.8},{"t":2008.66,"e":-0.7,"n":-1.4,"u":-1.9},{"t":2008.67,"e":-1.7,"n":5.3,"u":3.7},{"t":2008.68,"e":0.2,"n":-4.1,"u":-4.4},{"t":2008.69,"e":-1.1,"n":0.3,"u":1.3},
{"t":2008.70,"e":-0.3,"n":-0.6,"u":6.3},{"t":2008.71,"e":-1.5,"n":1.2,"u":-2.5},{"t":2008.72,"e":0.6,"n":-0.2,"u":4.0},{"t":2008.73,"e":-0.6,"n":2.0,"u":-5.1},{"t":2008.74,"e":1.0,"n":0.5,"u":2.4},
{"t":2008.75,"e":-0.1,"n":1.6,"u":7.5},{"t":2008.76,"e":0.9,"n":-0.3,"u":-1.6},{"t":2008.77,"e":1.6,"n":2.4,"u":3.2},{"t":2008.78,"e":0.3,"n":0.9,"u":-3.9},{"t":2008.79,"e":1.2,"n":1.8,"u":5.8},
{"t":2008.80,"e":0.6,"n":0.2,"u":11.5},{"t":2008.81,"e":1.9,"n":2.6,"u":-2.0},{"t":2008.82,"e":0.8,"n":1.1,"u":4.4},{"t":2008.83,"e":2.3,"n":3.2,"u":0.9},{"t":2008.84,"e":1.4,"n":0.7,"u":6.7},
{"t":2008.85,"e":0.5,"n":2.1,"u":-2.0},{"t":2008.86,"e":2.0,"n":3.0,"u":3.3},{"t":2008.87,"e":1.2,"n":1.4,"u":8.5},{"t":2008.88,"e":2.7,"n":4.1,"u":-0.8},{"t":2008.89,"e":1.6,"n":6.6,"u":2.6},
{"t":2008.91,"e":8.6,"n":5.2,"u":4.8},{"t":2008.92,"e":6.2,"n":3.6,"u":1.2},{"t":2008.93,"e":7.4,"n":4.6,"u":6.0},{"t":2008.94,"e":6.8,"n":3.0,"u":-1.5},
{"t":2008.95,"e":7.9,"n":4.2,"u":3.9},{"t":2008.96,"e":5.9,"n":2.8,"u":0.4},{"t":2008.97,"e":7.0,"n":3.5,"u":5.3},{"t":2008.98,"e":6.5,"n":2.0,"u":2.2},{"t":2008.99,"e":1.4,"n":1.0,"u":-3.0},
{"t":2009.00,"e":0.7,"n":2.3,"u":6.8},{"t":2009.01,"e":1.8,"n":0.4,"u":-1.0},{"t":2009.02,"e":0.4,"n":1.6,"u":3.1},{"t":2009.03,"e":1.5,"n":-0.3,"u":-4.6},{"t":2009.04,"e":2.0,"n":1.9,"u":2.0},
{"t":2009.05,"e":0.6,"n":0.6,"u":5.7},{"t":2009.06,"e":1.3,"n":-0.6,"u":-2.3},{"t":2009.07,"e":-0.2,"n":1.3,"u":1.5},{"t":2009.08,"e":1.7,"n":0.1,"u":-5.2},{"t":2009.09,"e":0.9,"n":2.0,"u":3.6},
{"t":2009.10,"e":0.1,"n":-0.8,"u":0.1},{"t":2009.11,"e":1.4,"n":0.9,"u":6.1},{"t":2009.12,"e":0.5,"n":3.2,"u":-3.4},{"t":2009.13,"e":1.9,"n":-0.4,"u":2.8},{"t":2009.14,"e":-0.4,"n":1.1,"u":-0.7},
{"t":2009.15,"e":1.0,"n":0.3,"u":4.0},{"t":2009.16,"e":0.3,"n":-1.1,"u":-6.0},{"t":2009.17,"e":1.3,"n":1.5,"u":1.9},{"t":2009.18,"e":-0.6,"n":0.0,"u":5.0},{"t":2009.19,"e":0.8,"n":2.5,"u":-1.8},
{"t":2009.20,"e":0.0,"n":-0.7,"u":2.4},{"t":2009.21,"e":1.1,"n":6.5,"u":9.8},{"t":2009.22,"e":-0.8,"n":0.6,"u":-3.7},{"t":2009.23,"e":0.5,"n":-1.0,"u":3.0},{"t":2009.24,"e":-0.3,"n":1.2,"u":-0.4},
{"t":2009.25,"e":0.9,"n":-0.3,"u":4.7},{"t":2009.26,"e":-1.2,"n":0.8,"u":-5.5},{"t":2009.27,"e":0.1,"n":-1.4,"u":1.0},{"t":2009.28,"e":-0.7,"n":0.4,"u":-2.2},{"t":2009.29,"e":0.4,"n":2.5,"u":3.9},
{"t":2009.30,"e":-1.5,"n":-0.9,"u":-0.1},{"t":2009.31,"e":-0.4,"n":0.7,"u":6.2},{"t":2009.32,"e":-1.1,"n":-1.6,"u":-4.1},{"t":2009.33,"e":0.2,"n":0.2,"u":1.3},{"t":2009.34,"e":-1.8,"n":-0.8,"u":-7.0},
{"t":2009.35,"e":-0.6,"n":1.0,"u":2.7},{"t":2009.36,"e":-1.4,"n":-1.9,"u":-1.5},{"t":2009.37,"e":-2.4,"n":-0.4,"u":4.3},{"t":2009.38,"e":-0.9,"n":-2.2,"u":-3.0},{"t":2009.39,"e":-2.0,"n":0.3,"u":0.8},
{"t":2009.40,"e":-1.3,"n":-1.3,"u":-5.7},{"t":2009.41,"e":-2.7,"n":-2.5,"u":2.1},{"t":2009.42,"e":-0.5,"n":-0.2,"u":-1.2},{"t":2009.43,"e":-1.9,"n":-1.7,"u":5.1},{"t":2009.44,"e":-3.0,"n":-0.6,"u":-8.1},
{"t":2009.45,"e":-1.6,"n":-2.4,"u":0.0},{"t":2009.46,"e":-2.8,"n":-1.1,"u":-3.9},{"t":2009.47,"e":-1.0,"n":-3.0,"u":2.5},{"t":2009.48,"e":-3.4,"n":-0.9,"u":-6.4},{"t":2009.49,"e":-2.1,"n":-2.0,"u":1.7},
{"t":2009.50,"e":-3.9,"n":-1.5,"u":-4.7},{"t":2009.51,"e":-1.7,"n":-2.7,"u":-13.0},{"t":2009.52,"e":-2.9,"n":-0.5,"u":2.2},{"t":2009.53,"e":-3.6,"n":-1.8,"u":-2.6},{"t":2009.54,"e":-2.2,"n":-3.2,"u":-7.5},
{"t":2009.55,"e":-4.1,"n":-1.2,"u":1.0},{"t":2009.56,"e":-2.6,"n":-2.3,"u":-4.9},{"t":2009.57,"e":-3.3,"n":-0.4,"u":3.2},{"t":2009.58,"e":-1.8,"n":-2.9,"u":-1.8},{"t":2009.59,"e":-3.7,"n":-1.6,"u":-6.8},
{"t":2009.60,"e":-2.4,"n":-3.6,"u":0.6},{"t":2009.61,"e":-3.0,"n":-0.8,"u":4.4},{"t":2009.62,"e":-1.5,"n":-2.1,"u":9.4},{"t":2009.63,"e":-2.7,"n":-4.2,"u":-3.1},{"t":2009.64,"e":-3.5,"n":-1.0,"u":-5.6},
{"t":2009.65,"e":-1.2,"n":-2.5,"u":2.0},{"t":2009.66,"e":-2.5,"n":-0.2,"u":-1.3},{"t":2009.67,"e":-0.9,"n":-1.9,"u":4.9},{"t":2009.68,"e":-2.0,"n":0.4,"u":-3.7},{"t":2009.69,"e":-0.6,"n":-1.3,"u":1.8},
{"t":2009.70,"e":-1.6,"n":1.2,"u":-6.0},{"t":2009.71,"e":-0.2,"n":-0.6,"u":3.4},{"t":2009.72,"e":-1.1,"n":2.4,"u":-0.9},{"t":2009.73,"e":0.4,"n":0.1,"u":5.6},{"t":2009.74,"e":-0.8,"n":1.5,"u":-2.4},
{"t":2009.75,"e":1.0,"n":-0.7,"u":2.9},{"t":2009.76,"e":-0.3,"n":0.8,"u":-4.8},{"t":2009.77,"e":1.6,"n":-0.3,"u":-10.3},{"t":2009.78,"e":0.2,"n":1.0,"u":1.5}
]
},
"vconcat": [
{
  "title": {"text": "MATE_GPS", "anchor": "middle", "frame": "group", "offset": 4},
  "width": 824, "height": 155,
  "resolve": {"axis": {"x": "independent", "y": "independent"}},
  "layer": [
    {"data": {"name": "obs"}, "mark": {"type": "tick", "orient": "vertical", "size": 12, "thickness": 1, "color": "#999999", "opacity": 0.65},
     "encoding": {"x": {"field": "t", "type": "quantitative", "scale": {"domain": [2002.595, 2010.2], "nice": false, "zero": false}, "axis": null},
                  "y": {"field": "e", "type": "quantitative", "scale": {"domain": [-11.2, 12.8], "nice": false, "zero": false}, "axis": null}}},
    {"data": {"name": "obs"}, "mark": {"type": "circle", "size": 26, "color": "#0000ff", "opacity": 1},
     "encoding": {"x": {"field": "t", "type": "quantitative", "scale": {"domain": [2002.595, 2010.2], "nice": false, "zero": false}, "axis": {"orient": "bottom", "values": [2003.25, 2004, 2004.75, 2005.5, 2006.25, 2007, 2007.75, 2008.5, 2009.25, 2010], "format": ".2f", "title": null}},
                  "y": {"field": "e", "type": "quantitative", "scale": {"domain": [-11.2, 12.8], "nice": false, "zero": false}, "axis": {"orient": "left", "values": [-8, -4, 0, 4, 8, 12], "format": "d", "title": "east(mm)"}}}},
    {"data": {"name": "model"}, "mark": {"type": "line", "color": "#ff0000", "strokeWidth": 5, "interpolate": "monotone"},
     "encoding": {"x": {"field": "t", "type": "quantitative", "scale": {"domain": [2002.595, 2010.2], "nice": false, "zero": false}, "axis": {"orient": "top", "labels": false, "values": [2003.25, 2004, 2004.75, 2005.5, 2006.25, 2007, 2007.75, 2008.5, 2009.25, 2010], "title": null}},
                  "y": {"field": "e", "type": "quantitative", "scale": {"domain": [-11.2, 12.8], "nice": false, "zero": false}, "axis": {"orient": "right", "labels": false, "values": [-8, -4, 0, 4, 8, 12], "title": null}}}},
    {"data": {"name": "events"}, "mark": {"type": "rule", "color": "black", "strokeWidth": 2},
     "encoding": {"x": {"field": "t", "type": "quantitative", "scale": {"domain": [2002.595, 2010.2], "nice": false, "zero": false}, "axis": null}}}
  ]
},
{
  "width": 824, "height": 155,
  "resolve": {"axis": {"x": "independent", "y": "independent"}},
  "layer": [
    {"data": {"name": "obs"}, "mark": {"type": "tick", "orient": "vertical", "size": 12, "thickness": 1, "color": "#999999", "opacity": 0.65},
     "encoding": {"x": {"field": "t", "type": "quantitative", "scale": {"domain": [2002.595, 2010.2], "nice": false, "zero": false}, "axis": null},
                  "y": {"field": "n", "type": "quantitative", "scale": {"domain": [-11.4, 10.6], "nice": false, "zero": false}, "axis": null}}},
    {"data": {"name": "obs"}, "mark": {"type": "circle", "size": 26, "color": "#0000ff", "opacity": 1},
     "encoding": {"x": {"field": "t", "type": "quantitative", "scale": {"domain": [2002.595, 2010.2], "nice": false, "zero": false}, "axis": {"orient": "bottom", "values": [2003.25, 2004, 2004.75, 2005.5, 2006.25, 2007, 2007.75, 2008.5, 2009.25, 2010], "format": ".2f", "title": null}},
                  "y": {"field": "n", "type": "quantitative", "scale": {"domain": [-11.4, 10.6], "nice": false, "zero": false}, "axis": {"orient": "left", "values": [-8, -4, 0, 4, 8], "format": "d", "title": "north(mm)"}}}},
    {"data": {"name": "model"}, "mark": {"type": "line", "color": "#ff0000", "strokeWidth": 5, "interpolate": "monotone"},
     "encoding": {"x": {"field": "t", "type": "quantitative", "scale": {"domain": [2002.595, 2010.2], "nice": false, "zero": false}, "axis": {"orient": "top", "labels": false, "values": [2003.25, 2004, 2004.75, 2005.5, 2006.25, 2007, 2007.75, 2008.5, 2009.25, 2010], "title": null}},
                  "y": {"field": "n", "type": "quantitative", "scale": {"domain": [-11.4, 10.6], "nice": false, "zero": false}, "axis": {"orient": "right", "labels": false, "values": [-8, -4, 0, 4, 8], "title": null}}}},
    {"data": {"name": "events"}, "mark": {"type": "rule", "color": "black", "strokeWidth": 2},
     "encoding": {"x": {"field": "t", "type": "quantitative", "scale": {"domain": [2002.595, 2010.2], "nice": false, "zero": false}, "axis": null}}}
  ]
},
{
  "width": 824, "height": 155,
  "resolve": {"axis": {"x": "independent", "y": "independent"}},
  "layer": [
    {"data": {"name": "obs"}, "mark": {"type": "tick", "orient": "vertical", "size": 12, "thickness": 1, "color": "#999999", "opacity": 0.65},
     "encoding": {"x": {"field": "t", "type": "quantitative", "scale": {"domain": [2002.595, 2010.2], "nice": false, "zero": false}, "axis": null},
                  "y": {"field": "u", "type": "quantitative", "scale": {"domain": [-42, 41.6], "nice": false, "zero": false}, "axis": null}}},
    {"data": {"name": "obs"}, "mark": {"type": "circle", "size": 26, "color": "#0000ff", "opacity": 1},
     "encoding": {"x": {"field": "t", "type": "quantitative", "scale": {"domain": [2002.595, 2010.2], "nice": false, "zero": false}, "axis": {"orient": "bottom", "values": [2003.25, 2004, 2004.75, 2005.5, 2006.25, 2007, 2007.75, 2008.5, 2009.25, 2010], "format": ".2f", "title": null}},
                  "y": {"field": "u", "type": "quantitative", "scale": {"domain": [-42, 41.6], "nice": false, "zero": false}, "axis": {"orient": "left", "values": [-32, -16, 0, 16, 32], "format": "d", "title": "up(mm)"}}}},
    {"data": {"name": "model"}, "mark": {"type": "line", "color": "#ff0000", "strokeWidth": 5, "interpolate": "monotone"},
     "encoding": {"x": {"field": "t", "type": "quantitative", "scale": {"domain": [2002.595, 2010.2], "nice": false, "zero": false}, "axis": {"orient": "top", "labels": false, "values": [2003.25, 2004, 2004.75, 2005.5, 2006.25, 2007, 2007.75, 2008.5, 2009.25, 2010], "title": null}},
                  "y": {"field": "u", "type": "quantitative", "scale": {"domain": [-42, 41.6], "nice": false, "zero": false}, "axis": {"orient": "right", "labels": false, "values": [-32, -16, 0, 16, 32], "title": null}}}},
    {"data": {"name": "events"}, "mark": {"type": "rule", "color": "black", "strokeWidth": 2},
     "encoding": {"x": {"field": "t", "type": "quantitative", "scale": {"domain": [2002.595, 2010.2], "nice": false, "zero": false}, "axis": null}}}
  ]
}
]
}
